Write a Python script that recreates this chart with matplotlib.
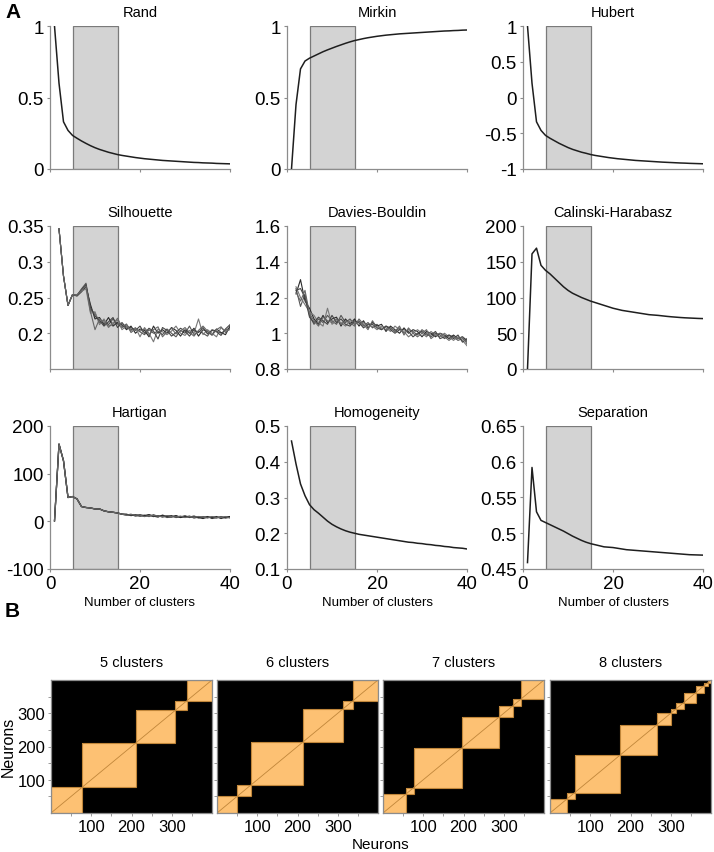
import numpy as np
import matplotlib
matplotlib.use("Agg")
import matplotlib.pyplot as plt
from matplotlib import font_manager
from matplotlib.patches import Rectangle
from matplotlib.colors import ListedColormap

names = {f.name for f in font_manager.fontManager.ttflist}
MAIN = "Liberation Sans" if "Liberation Sans" in names else "DejaVu Sans"
NARROW = "Liberation Sans Narrow" if "Liberation Sans Narrow" in names else MAIN
plt.rcParams['font.family'] = [MAIN, 'DejaVu Sans']

# ---------------- data ----------------
k_all = list(range(1, 41))
k_from2 = list(range(2, 41))

rand = [1.0, 0.60, 0.33, 0.27, 0.235, 0.215, 0.196, 0.179, 0.163, 0.149, 0.137, 0.127, 0.117,
        0.109, 0.101, 0.095, 0.090, 0.085, 0.080, 0.076, 0.072, 0.069, 0.066, 0.063, 0.060,
        0.058, 0.056, 0.054, 0.052, 0.050, 0.048, 0.046, 0.045, 0.043, 0.042, 0.041, 0.039,
        0.038, 0.037, 0.036]
mirkin = [0.0, 0.45, 0.70, 0.755, 0.775, 0.79, 0.805, 0.82, 0.833, 0.845, 0.857, 0.868, 0.879,
          0.889, 0.898, 0.905, 0.912, 0.918, 0.923, 0.928, 0.932, 0.936, 0.939, 0.942, 0.945,
          0.947, 0.949, 0.951, 0.953, 0.955, 0.957, 0.959, 0.961, 0.963, 0.965, 0.966, 0.968,
          0.969, 0.971, 0.972]
hubert = [1.0, 0.20, -0.34, -0.46, -0.53, -0.57, -0.605, -0.64, -0.67, -0.70, -0.725, -0.745,
          -0.765, -0.78, -0.797, -0.81, -0.82, -0.83, -0.84, -0.848, -0.856, -0.862, -0.868,
          -0.874, -0.88, -0.884, -0.888, -0.892, -0.896, -0.9, -0.904, -0.907, -0.91, -0.913,
          -0.916, -0.918, -0.921, -0.923, -0.925, -0.927]
calinski = [0, 161, 169, 145, 138, 133, 127, 121, 115, 110, 106, 103, 100, 97.5, 95, 93, 91,
            89, 87, 85, 83.5, 82, 81, 80, 79, 78, 77, 76, 75.5, 75, 74.3, 73.6, 73, 72.5, 72,
            71.6, 71.3, 71, 70.7, 70.5]
homogeneity = [0.458, 0.394, 0.338, 0.305, 0.28, 0.266, 0.256, 0.245, 0.234, 0.225, 0.218,
               0.212, 0.207, 0.203, 0.200, 0.197, 0.195, 0.193, 0.191, 0.189, 0.187, 0.185,
               0.183, 0.181, 0.179, 0.177, 0.175, 0.174, 0.172, 0.171, 0.169, 0.168, 0.166,
               0.165, 0.163, 0.162, 0.160, 0.159, 0.158, 0.156]
separation = [0.459, 0.592, 0.53, 0.518, 0.515, 0.512, 0.509, 0.506, 0.503, 0.4995, 0.496,
              0.493, 0.490, 0.4875, 0.4855, 0.484, 0.4825, 0.481, 0.4805, 0.480, 0.479, 0.478,
              0.477, 0.4765, 0.476, 0.4755, 0.475, 0.4745, 0.474, 0.4735, 0.473, 0.4725, 0.472,
              0.4715, 0.471, 0.4705, 0.470, 0.4698, 0.4696, 0.4694]

silhouette_runs = [
    [0.346, 0.28, 0.239, 0.254, 0.253, 0.262, 0.27, 0.232, 0.228, 0.215, 0.218, 0.212, 0.220,
     0.213, 0.208, 0.212, 0.205, 0.207, 0.202, 0.198, 0.205, 0.200, 0.203, 0.198, 0.206, 0.200,
     0.195, 0.204, 0.200, 0.210, 0.198, 0.203, 0.200, 0.196, 0.205, 0.203, 0.200, 0.204, 0.208],
    [0.346, 0.28, 0.239, 0.254, 0.252, 0.258, 0.265, 0.240, 0.220, 0.222, 0.212, 0.222, 0.210,
     0.215, 0.212, 0.205, 0.210, 0.200, 0.206, 0.204, 0.195, 0.210, 0.200, 0.205, 0.200, 0.208,
     0.204, 0.196, 0.205, 0.200, 0.207, 0.196, 0.205, 0.202, 0.198, 0.206, 0.201, 0.198, 0.210],
    [0.346, 0.28, 0.239, 0.254, 0.254, 0.259, 0.262, 0.228, 0.230, 0.212, 0.220, 0.208, 0.215,
     0.218, 0.205, 0.210, 0.203, 0.208, 0.195, 0.208, 0.200, 0.188, 0.206, 0.202, 0.198, 0.203,
     0.210, 0.200, 0.197, 0.204, 0.200, 0.220, 0.198, 0.205, 0.200, 0.195, 0.208, 0.203, 0.205],
    [0.346, 0.28, 0.239, 0.254, 0.253, 0.261, 0.268, 0.236, 0.224, 0.218, 0.210, 0.216, 0.222,
     0.208, 0.215, 0.207, 0.208, 0.204, 0.210, 0.200, 0.207, 0.203, 0.192, 0.208, 0.204, 0.196,
     0.201, 0.207, 0.203, 0.196, 0.205, 0.201, 0.208, 0.199, 0.204, 0.202, 0.197, 0.206, 0.212],
    [0.346, 0.28, 0.239, 0.254, 0.253, 0.260, 0.266, 0.230, 0.205, 0.220, 0.215, 0.210, 0.212,
     0.221, 0.209, 0.213, 0.201, 0.206, 0.203, 0.206, 0.198, 0.205, 0.209, 0.195, 0.202, 0.207,
     0.199, 0.203, 0.208, 0.201, 0.196, 0.204, 0.210, 0.203, 0.197, 0.205, 0.209, 0.201, 0.207],
]
davies_runs = [
    [1.25, 1.15, 1.22, 1.10, 1.05, 1.08, 1.06, 1.10, 1.07, 1.05, 1.10, 1.06, 1.08, 1.05, 1.07,
     1.04, 1.06, 1.03, 1.05, 1.02, 1.04, 1.03, 1.01, 1.03, 1.00, 1.02, 1.01, 0.99, 1.02, 1.00,
     0.98, 1.00, 0.99, 0.97, 0.99, 0.98, 0.96, 0.97, 0.95],
    [1.22, 1.30, 1.18, 1.14, 1.08, 1.05, 1.10, 1.06, 1.08, 1.09, 1.04, 1.08, 1.05, 1.08, 1.04,
     1.07, 1.03, 1.06, 1.04, 1.05, 1.01, 1.04, 1.02, 1.00, 1.03, 1.00, 1.02, 1.01, 0.98, 1.01,
     1.00, 0.98, 1.00, 0.99, 0.97, 0.99, 0.97, 0.98, 0.96],
    [1.26, 1.20, 1.16, 1.12, 1.10, 1.06, 1.04, 1.14, 1.05, 1.07, 1.06, 1.04, 1.07, 1.06, 1.05,
     1.06, 1.04, 1.04, 1.02, 1.04, 1.03, 1.01, 1.04, 1.02, 1.01, 0.98, 1.00, 1.02, 1.00, 0.98,
     1.01, 0.99, 0.98, 1.00, 0.98, 0.96, 0.98, 0.96, 0.93],
    [1.24, 1.25, 1.20, 1.09, 1.06, 1.09, 1.07, 1.05, 1.10, 1.06, 1.08, 1.05, 1.04, 1.07, 1.06,
     1.03, 1.05, 1.05, 1.03, 1.02, 1.04, 1.02, 1.00, 1.02, 1.02, 1.01, 0.98, 1.00, 1.01, 0.99,
     0.99, 1.01, 0.97, 0.98, 0.99, 0.97, 0.99, 0.95, 0.97],
    [1.23, 1.18, 1.24, 1.11, 1.07, 1.04, 1.09, 1.07, 1.06, 1.08, 1.05, 1.07, 1.06, 1.04, 1.08,
     1.05, 1.02, 1.07, 1.03, 1.03, 1.02, 1.03, 1.01, 1.04, 0.99, 1.03, 1.00, 0.98, 1.00, 1.02,
     0.97, 0.99, 1.00, 0.98, 0.96, 0.98, 0.97, 0.98, 0.94],
]
hartigan_head = [1, 162, 127, 50, 52, 47, 31, 29, 28, 26, 26, 22, 20, 19, 17.5, 15]
hartigan_tails = [
    [14, 13, 12, 14, 11, 13, 10, 12, 9, 11, 12, 8, 10, 9, 11, 7, 9, 8, 10, 6, 8, 9, 7, 9],
    [13, 15, 11, 12, 13, 10, 14, 10, 12, 8, 10, 11, 9, 12, 8, 10, 7, 10, 8, 9, 7, 10, 8, 8],
    [15, 12, 14, 11, 12, 14, 11, 9, 13, 10, 9, 12, 8, 10, 9, 11, 8, 6, 9, 8, 10, 6, 9, 10],
    [13, 14, 13, 13, 10, 12, 12, 11, 10, 12, 10, 9, 11, 8, 10, 9, 10, 9, 7, 10, 8, 8, 10, 7],
]

titles = ["Rand", "Mirkin", "Hubert", "Silhouette", "Davies-Bouldin", "Calinski-Harabasz",
          "Hartigan", "Homogeneity", "Separation"]
ylims = [(0, 1), (0, 1), (-1, 1), (0.15, 0.35), (0.8, 1.6), (0, 200), (-100, 200), (0.1, 0.5),
         (0.45, 0.65)]
yticks = [[0, 0.5, 1], [0, 0.5, 1], [-1, -0.5, 0, 0.5, 1], [0.2, 0.25, 0.3, 0.35],
          [0.8, 1, 1.2, 1.4, 1.6], [0, 50, 100, 150, 200], [-100, 0, 100, 200],
          [0.1, 0.2, 0.3, 0.4, 0.5], [0.45, 0.5, 0.55, 0.6, 0.65]]
ytick_labels = [["0", "0.5", "1"], ["0", "0.5", "1"], ["-1", "-0.5", "0", "0.5", "1"],
                ["0.2", "0.25", "0.3", "0.35"], ["0.8", "1", "1.2", "1.4", "1.6"],
                ["0", "50", "100", "150", "200"], ["-100", "0", "100", "200"],
                ["0.1", "0.2", "0.3", "0.4", "0.5"], ["0.45", "0.5", "0.55", "0.6", "0.65"]]
xticks = [0, 20, 40]
xtick_labels = ["0", "20", "40"]
shade_range = (5, 15)

n_neurons = 400
cluster_titles = ["5 clusters", "6 clusters", "7 clusters", "8 clusters"]
cluster_bounds = [
    [0, 78, 211, 309, 338, 400],
    [0, 50, 84, 214, 312, 338, 400],
    [0, 58, 76, 196, 288, 323, 342, 400],
    [0, 43, 61, 173, 265, 300, 312, 332, 362, 382, 392, 400],
]
mat_ticks = [100, 200, 300]

# ---------------- layout ----------------
W, H = 714, 853
fig = plt.figure(figsize=(W / 100, H / 100), dpi=100)


def rect(l, t, w, h):
    return [l / W, 1 - (t + h) / H, w / W, h / H]


SPINE = "#8c8c8c"
LINE = "#1e1e1e"
col_left = [50, 287, 523]
row_top = [27, 227, 427]

series_single = {0: rand, 1: mirkin, 2: hubert, 5: calinski, 7: homogeneity, 8: separation}

for i in range(9):
    r, c = divmod(i, 3)
    ax = fig.add_axes(rect(col_left[c], row_top[r], 180, 143))
    ax.axvspan(shade_range[0], shade_range[1], facecolor="#d3d3d3", edgecolor="#7a7a7a",
               lw=0.9, zorder=1)
    if i in series_single:
        ax.plot(k_all, series_single[i], color=LINE, lw=1.1, zorder=3)
    elif i == 3:
        shades = ["#555555", "#2a2a2a", "#777777", "#444444", "#666666"]
        for run, cc in zip(silhouette_runs, shades):
            ax.plot(k_from2, run, color=cc, lw=0.8, zorder=3)
    elif i == 4:
        shades = ["#555555", "#2a2a2a", "#777777", "#444444", "#666666"]
        for run, cc in zip(davies_runs, shades):
            ax.plot(k_from2, run, color=cc, lw=0.8, zorder=3)
    elif i == 6:
        shades = ["#333333", "#555555", "#222222", "#666666"]
        for tail, cc in zip(hartigan_tails, shades):
            ax.plot(k_all, hartigan_head + tail, color=cc, lw=0.9, zorder=3)
    ax.set_xlim(0, 40)
    ax.set_ylim(*ylims[i])
    ax.set_yticks(yticks[i])
    ax.set_yticklabels(ytick_labels[i])
    ax.set_xticks(xticks)
    if r == 2:
        ax.set_xticklabels(xtick_labels)
        ax.set_xlabel("Number of clusters", family=[NARROW, MAIN], fontsize=9.5, labelpad=3)
    else:
        ax.set_xticklabels([])
    for s in ["top", "right"]:
        ax.spines[s].set_visible(False)
    for s in ["left", "bottom"]:
        ax.spines[s].set_color(SPINE)
        ax.spines[s].set_linewidth(0.9)
    ax.tick_params(axis="both", length=2.5, width=0.8, color=SPINE, labelsize=13.5, pad=2)
    ax.set_title(titles[i], fontsize=10.5, pad=7)

fig.text(5 / W, 1 - 3 / H, "A", fontsize=15, fontweight="bold", va="top", ha="left")
fig.text(5 / W, 1 - 612 / H, "B", fontsize=15, fontweight="bold", va="center", ha="left")

# ---------------- B: co-clustering matrices ----------------
ORANGE = "#fdc173"
EDGE = "#c0863a"
cmap = ListedColormap(["#000000", ORANGE])
mat_left = [51, 217, 383, 550]
for j in range(4):
    ax = fig.add_axes(rect(mat_left[j], 681, 161, 133))
    b = cluster_bounds[j]
    labels = np.zeros(n_neurons, dtype=int)
    for q in range(len(b) - 1):
        labels[b[q]:b[q + 1]] = q
    M = (labels[:, None] == labels[None, :]).astype(float)
    ax.imshow(M, cmap=cmap, origin="lower", extent=[0, n_neurons, 0, n_neurons],
              aspect="auto", interpolation="nearest", vmin=0, vmax=1)
    for q in range(len(b) - 1):
        ax.add_patch(Rectangle((b[q], b[q]), b[q + 1] - b[q], b[q + 1] - b[q], fill=False,
                               edgecolor=EDGE, lw=0.8))
    ax.plot([0, n_neurons], [0, n_neurons], color=EDGE, lw=0.6)
    ax.set_xlim(0, n_neurons)
    ax.set_ylim(0, n_neurons)
    ax.set_xticks(mat_ticks)
    ax.set_xticks([50, 150, 250, 350], minor=True)
    ax.set_yticks(mat_ticks)
    ax.set_yticks([50, 150, 250, 350], minor=True)
    if j == 0:
        ax.set_yticklabels([str(t) for t in mat_ticks])
    else:
        ax.set_yticklabels([])
    for s in ax.spines.values():
        s.set_color(SPINE)
        s.set_linewidth(0.9)
    ax.tick_params(which="both", length=2, width=0.6, color=SPINE, labelsize=12, pad=2)
    ax.set_title(cluster_titles[j], family=[NARROW, MAIN], fontsize=10.5, pad=10)

fig.text(381 / W, 1 - 845 / H, "Neurons", family=[NARROW, MAIN], fontsize=11,
         ha="center", va="center")
fig.text(8 / W, 1 - 747 / H, "Neurons", fontsize=11.5, rotation=90, ha="center", va="center")

fig.savefig("out.png", dpi=100)
